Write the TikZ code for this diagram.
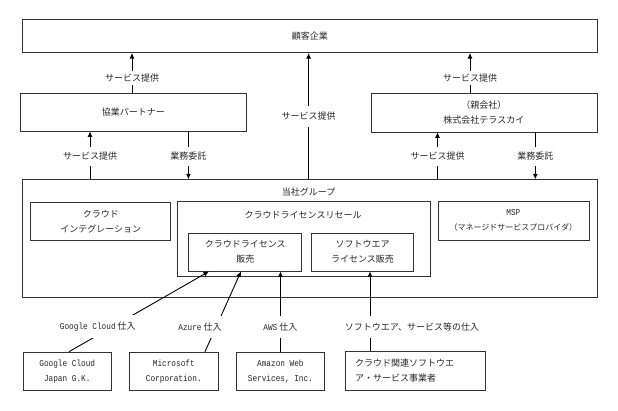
\documentclass[tikz,border=0pt]{standalone}
\usepackage{fontspec}
\setmainfont{Noto Sans CJK JP}
\newfontfamily\lat{Liberation Mono}[FakeStretch=0.86]
\usetikzlibrary{arrows.meta}
\tikzset{
  box/.style={draw=black!80, line width=0.7pt, inner sep=2pt, align=center, anchor=north west},
  arr/.style={-{Latex[length=5.5pt,width=5pt]}, line width=0.9pt},
  lab/.style={fill=white, inner xsep=2pt, inner ysep=#1},
  lab/.default=6.5pt,
  ttl/.style={inner sep=0pt}
}
\begin{document}
\begin{tikzpicture}[x=1pt, y=-1pt, font=\fontsize{9}{15}\selectfont, text=black!85]
\useasboundingbox (0,0) rectangle (618,410);
% boxes
\node[box, minimum width=575.5pt, minimum height=33.3pt] (cust) at (21.7,19) {顧客企業};
\node[box, minimum width=226.7pt, minimum height=38pt] (kyo) at (19.7,92.7) {協業パートナー};
\node[box, minimum width=226pt, minimum height=38.3pt] (oya) at (370.5,93.3) {（親会社）\\株式会社テラスカイ};
\node[box, minimum width=575.3pt, minimum height=117.4pt] (tosha) at (21.7,179.3) {};
\node[ttl] (toshat) at (308.6,192.3) {当社グループ};
\node[box, minimum width=140pt, minimum height=38.3pt] (integ) at (30.4,201.7) {クラウド\\インテグレーション};
\node[box, minimum width=253pt, minimum height=74.7pt] (resale) at (176.6,201) {};
\node[ttl] (resalet) at (303.1,215) {クラウドライセンスリセール};
\node[box, minimum width=113pt, minimum height=38pt] (sale) at (188.4,232.7) {クラウドライセンス\\販売};
\node[box, minimum width=101.6pt, minimum height=38pt] (soft) at (311.4,232.7) {ソフトウエア\\ライセンス販売};
\node[box, minimum width=151pt, minimum height=39pt] (msp) at (437.5,201) {{\lat MSP}\\{\fontsize{8}{15}\selectfont （マネージドサービスプロバイダ）}};
\node[box, minimum width=88pt, minimum height=38.3pt] (google) at (22.9,351.7) {\lat Google Cloud\\\lat Japan G.K.};
\node[box, minimum width=88.3pt, minimum height=38.3pt] (ms) at (129.3,351.7) {\lat Microsoft\\\lat Corporation.};
\node[box, minimum width=88.7pt, minimum height=38.3pt] (aws) at (235.7,351.7) {\lat Amazon Web\\\lat Services, Inc.};
\node[box, minimum width=139.8pt, minimum height=39pt, text width=120.4pt, inner xsep=9.7pt, align=left] (vendor) at (345,351) {クラウド関連ソフトウエ\\ア・サービス事業者};
% x positions of connectors
\coordinate (xa) at (132,0);
\coordinate (xb) at (308.6,0);
\coordinate (xc) at (470,0);
\coordinate (xd) at (90,0);
\coordinate (xe) at (188.4,0);
\coordinate (xf) at (437.5,0);
\coordinate (xg) at (535.3,0);
\coordinate (g1) at (69,0);
\coordinate (g2) at (209,0);
\coordinate (m1) at (205,0);
\coordinate (m2) at (241,0);
\coordinate (a1) at (280.4,0);
\coordinate (s1) at (370,0);
% upper connectors
\draw[arr] (kyo.north -| xa) -- (cust.south -| xa) node[lab=2.5pt, pos=0.37] {サービス提供};
\draw[arr] (oya.north -| xc) -- (cust.south -| xc) node[lab=2.5pt, pos=0.38] {サービス提供};
\draw[arr] (tosha.north -| xb) -- (cust.south -| xb) node[lab=6.5pt, pos=0.5] {サービス提供};
\draw[arr] (tosha.north -| xd) -- (kyo.south -| xd) node[lab=5.5pt, pos=0.48] {サービス提供};
\draw[arr] (kyo.south -| xe) -- (tosha.north -| xe) node[lab=5.5pt, pos=0.52] {業務委託};
\draw[arr] (tosha.north -| xf) -- (oya.south -| xf) node[lab=5.5pt, pos=0.49] {サービス提供};
\draw[arr] (oya.south -| xg) -- (tosha.north -| xg) node[lab=5.5pt, pos=0.51] {業務委託};
% lower connectors
\draw[arr] (google.north -| g1) -- (sale.south -| g2);
\draw[arr] (ms.north -| m1) -- (sale.south -| m2);
\draw[arr] (aws.north -| a1) -- (sale.south -| a1);
\draw[arr] (vendor.north -| s1) -- (soft.south -| s1);
\node[lab=7pt] (lg) at (97.8,326.7) {{\lat Google Cloud} 仕入};
\node[lab=7pt] (lm) at (200,326.7) {{\lat Azure} 仕入};
\node[lab=7pt] (la) at (280.4,326.7) {{\lat AWS} 仕入};
\node[lab=7pt] (ls) at (412,326.7) {ソフトウエア、サービス等の仕入};
\end{tikzpicture}
\end{document}
